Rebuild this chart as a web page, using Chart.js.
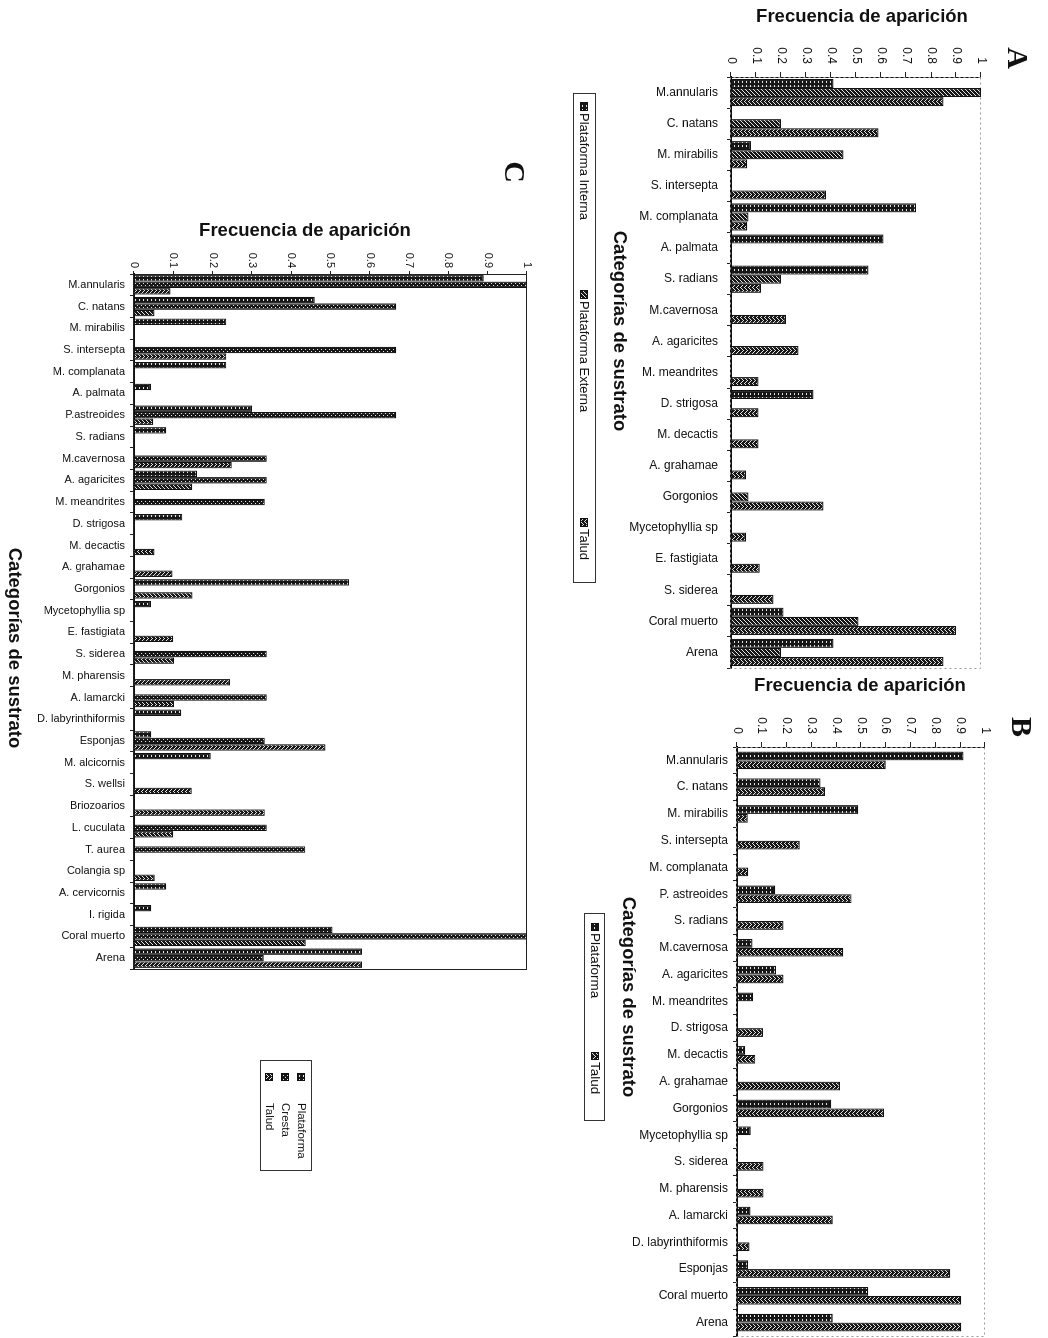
<!DOCTYPE html>
<html lang="es">
<head>
<meta charset="utf-8">
<title>Frecuencia de aparición por categorías de sustrato</title>
<script src="https://cdn.jsdelivr.net/npm/chart.js@4.4.1/dist/chart.umd.min.js"></script>
<style>
	html, body { margin: 0; padding: 0; background: #fff; }
	body { width: 1048px; height: 1338px; position: relative; overflow: hidden; font-family: 'Liberation Sans', Arial, sans-serif; color: #111; }
	canvas.rot { position: absolute; transform-origin: 0 0; }
	.lbl { position: absolute; transform: translate(-50%, -50%); white-space: nowrap; line-height: 1; }
	.ttl { font-weight: bold; font-size: 18.5px; }
	.vert { writing-mode: vertical-rl; }
	.letra { font-family: 'Liberation Serif', serif; font-weight: bold; font-size: 30px; writing-mode: vertical-rl; }
</style>
</head>
<body>

<canvas id="chart-a" class="rot"></canvas>
<canvas id="chart-b" class="rot"></canvas>
<canvas id="chart-c" class="rot"></canvas>

<!-- titles and panel letters (page is turned a quarter, so some text runs downwards) -->
<div class="lbl ttl" style="left:862px; top:16px;">Frecuencia de aparición</div>
<div class="lbl ttl vert" style="left:620px; top:331px;">Categorías de sustrato</div>
<div class="lbl letra" style="left:1018px; top:58px;">A</div>

<div class="lbl ttl" style="left:860px; top:685px;">Frecuencia de aparición</div>
<div class="lbl ttl vert" style="left:629px; top:997px;">Categorías de sustrato</div>
<div class="lbl letra" style="left:1022px; top:727px;">B</div>

<div class="lbl ttl" style="left:305px; top:230px;">Frecuencia de aparición</div>
<div class="lbl ttl vert" style="left:15px; top:648px;">Categorías de sustrato</div>
<div class="lbl letra" style="left:515px; top:172px;">C</div>

<script>
/*  data  */

const valueTicks = ['0', '0.1', '0.2', '0.3', '0.4', '0.5', '0.6', '0.7', '0.8', '0.9', '1'];

// A
const catsA = ['M.annularis', 'C. natans', 'M. mirabilis', 'S. intersepta', 'M. complanata', 'A. palmata',
	'S. radians', 'M.cavernosa', 'A. agaricites', 'M. meandrites', 'D. strigosa', 'M. decactis',
	'A. grahamae', 'Gorgonios', 'Mycetophyllia sp', 'E. fastigiata', 'S. siderea', 'Coral muerto', 'Arena'];
const internaA = [0.41, 0, 0.08, 0, 0.74, 0.61, 0.55, 0, 0, 0, 0.33, 0, 0, 0, 0, 0, 0, 0.21, 0.41];
const externaA = [1.0, 0.2, 0.45, 0, 0.07, 0, 0.2, 0, 0, 0, 0, 0, 0, 0.07, 0, 0, 0, 0.51, 0.2];
const taludA = [0.85, 0.59, 0.065, 0.38, 0.065, 0, 0.12, 0.22, 0.27, 0.11, 0.11, 0.11, 0.06, 0.37, 0.06, 0.115, 0.17, 0.9, 0.85];

// B
const catsB = ['M.annularis', 'C. natans', 'M. mirabilis', 'S. intersepta', 'M. complanata', 'P. astreoides',
	'S. radians', 'M.cavernosa', 'A. agaricites', 'M. meandrites', 'D. strigosa', 'M. decactis',
	'A. grahamae', 'Gorgonios', 'Mycetophyllia sp', 'S. siderea', 'M. pharensis', 'A. lamarcki',
	'D. labyrinthiformis', 'Esponjas', 'Coral muerto', 'Arena'];
const plataformaB = [0.913, 0.337, 0.489, 0, 0, 0.154, 0, 0.063, 0.157, 0.065, 0, 0.033, 0, 0.38, 0.055, 0, 0, 0.054, 0, 0.044, 0.529, 0.386];
const taludB = [0.6, 0.355, 0.043, 0.253, 0.045, 0.462, 0.187, 0.428, 0.187, 0, 0.105, 0.074, 0.415, 0.593, 0, 0.107, 0.107, 0.386, 0.05, 0.86, 0.904, 0.904];

// C
const catsC = ['M.annularis', 'C. natans', 'M. mirabilis', 'S. intersepta', 'M. complanata', 'A. palmata',
	'P.astreoides', 'S. radians', 'M.cavernosa', 'A. agaricites', 'M. meandrites', 'D. strigosa',
	'M. decactis', 'A. grahamae', 'Gorgonios', 'Mycetophyllia sp', 'E. fastigiata', 'S. siderea',
	'M. pharensis', 'A. lamarcki', 'D. labyrinthiformis', 'Esponjas', 'M. alcicornis', 'S. wellsi',
	'Briozoarios', 'L. cuculata', 'T. aurea', 'Colangia sp', 'A. cervicornis', 'I. rigida',
	'Coral muerto', 'Arena'];
const plataformaC = [0.89, 0.46, 0.235, 0, 0.235, 0.043, 0.3, 0.082, 0, 0.16, 0, 0.123, 0, 0, 0.547, 0.043,
	0, 0, 0, 0, 0.12, 0.044, 0.195, 0, 0, 0, 0, 0, 0.082, 0.044, 0.505, 0.58];
const crestaC = [1.0, 0.667, 0, 0.667, 0, 0, 0.667, 0, 0.338, 0.338, 0.333, 0, 0, 0, 0, 0,
	0, 0.338, 0, 0.338, 0, 0.333, 0, 0, 0, 0.338, 0.436, 0, 0, 0, 1.0, 0.33];
const taludC = [0.093, 0.052, 0, 0.235, 0, 0, 0.049, 0, 0.249, 0.148, 0, 0, 0.052, 0.098, 0.149, 0,
	0.1, 0.102, 0.244, 0.102, 0, 0.487, 0, 0.147, 0.333, 0.1, 0, 0.053, 0, 0, 0.437, 0.58];


/*  hatch fills, like the scanned bars  */

function makePattern(kind) {
	let c = document.createElement('canvas');
	let g = c.getContext('2d');
	c.width = 4; c.height = 4;
	if (kind === 'zig') { c.width = 6; }
	g.fillStyle = '#161616';
	g.fillRect(0, 0, c.width, c.height);
	g.fillStyle = '#e6e6e6';
	if (kind === 'grid') {
		g.fillRect(1, 1, 2, 1);
	} else if (kind === 'diag') {
		for (let i = 0; i < 4; i++) g.fillRect(i, 3 - i, 1, 1);
	} else if (kind === 'dots') {
		g.fillRect(1, 1, 1, 1);
		g.fillRect(3, 3, 1, 1);
	} else if (kind === 'zig') {
		[[0, 2], [1, 1], [2, 0], [3, 1], [4, 2], [5, 3]].forEach(p => g.fillRect(p[0], p[1], 1, 1));
	}
	return g.createPattern(c, 'repeat');
}

const fillGrid = makePattern('grid');
const fillDiag = makePattern('diag');
const fillDots = makePattern('dots');
const fillZig = makePattern('zig');


/*  plugins: plot frame and boxed legend  */

const framePlugin = {
	id: 'frame',
	beforeDatasetsDraw(chart, args, opts) {
		let a = chart.chartArea;
		let ctx = chart.ctx;
		ctx.save();
		ctx.strokeStyle = opts.color;
		ctx.lineWidth = 1;
		ctx.setLineDash(opts.dash || []);
		ctx.strokeRect(a.left + 0.5, a.top + 0.5, a.right - a.left, a.bottom - a.top);
		ctx.restore();
	}
};

const boxLegend = {
	id: 'boxLegend',
	afterDraw(chart, args, opts) {
		let ctx = chart.ctx;
		ctx.save();
		ctx.strokeStyle = '#333';
		ctx.lineWidth = 1;
		ctx.strokeRect(opts.box[0] + 0.5, opts.box[1] + 0.5, opts.box[2], opts.box[3]);
		ctx.font = opts.font;
		ctx.textBaseline = 'middle';
		chart.data.datasets.forEach(function (ds, i) {
			let p = opts.items[i];
			ctx.fillStyle = ds.backgroundColor;
			ctx.fillRect(p[0], p[1], opts.sw, opts.sh);
			ctx.strokeStyle = '#111';
			ctx.strokeRect(p[0] + 0.5, p[1] + 0.5, opts.sw, opts.sh);
			ctx.fillStyle = '#111';
			ctx.fillText(ds.label, p[0] + opts.gap, p[1] + opts.sh / 2 + 0.5);
		});
		ctx.restore();
	}
};


/*  each panel is a column chart, turned 90deg clockwise onto the page  */

function drawPanel(id, frame, area, labels, datasets, look) {
	let cv = document.getElementById(id);
	cv.width = frame.w;
	cv.height = frame.h;
	cv.style.left = frame.left + 'px';
	cv.style.top = frame.top + 'px';
	cv.style.transform = 'translateX(' + frame.h + 'px) rotate(90deg)';

	datasets.forEach(function (ds) {
		ds.borderColor = '#111';
		ds.borderWidth = 1.2;
	});

	return new Chart(cv, {
		type: 'bar',
		data: { labels: labels, datasets: datasets },
		options: {
			responsive: false,
			animation: false,
			layout: { padding: { left: 0, top: area.top, right: frame.w - area.right, bottom: 0 } },
			datasets: { bar: { categoryPercentage: look.catPct, barPercentage: 1 } },
			plugins: {
				legend: { display: false },
				tooltip: { enabled: false },
				frame: look.frame,
				boxLegend: look.legend
			},
			scales: {
				x: {
					grid: { offset: true, drawOnChartArea: false, tickLength: 4, color: '#222' },
					border: { color: '#111', width: 2 },
					ticks: {
						autoSkip: false, minRotation: 90, maxRotation: 90,
						padding: look.catPad, color: '#111',
						font: { size: look.catFont }
					},
					afterFit: function (s) { s.height = frame.h - area.bottom; }
				},
				y: {
					min: 0, max: 1,
					grid: { drawOnChartArea: false, tickLength: look.tickLen, color: '#222' },
					border: { color: '#111', width: 1 },
					ticks: {
						stepSize: 0.1, padding: look.valPad, color: '#111',
						font: { size: look.valFont },
						callback: function (v, i) { return valueTicks[i]; }
					},
					afterFit: function (s) { s.width = area.left; }
				}
			}
		},
		plugins: [framePlugin, boxLegend]
	});
}

drawPanel('chart-a',
	{ left: 560, top: 0, w: 690, h: 488 },
	{ left: 77, right: 668, top: 67, bottom: 317 },
	catsA,
	[
		{ label: 'Plataforma Interna', data: internaA, backgroundColor: fillGrid },
		{ label: 'Plataforma Externa', data: externaA, backgroundColor: fillDiag },
		{ label: 'Talud', data: taludA, backgroundColor: fillZig }
	],
	{
		catPct: 0.88, catPad: 9, catFont: 12, valPad: 8, valFont: 12, tickLen: 5,
		frame: { color: '#9a9a9a', dash: [2, 3] },
		legend: { box: [93, 452, 489, 22], items: [[102, 460], [290, 460], [518, 460]], sw: 8, sh: 7, gap: 11, font: '13px "Liberation Sans", Arial, sans-serif' }
	});

drawPanel('chart-b',
	{ left: 560, top: 670, w: 690, h: 488 },
	{ left: 77, right: 666, top: 63, bottom: 311 },
	catsB,
	[
		{ label: 'Plataforma', data: plataformaB, backgroundColor: fillGrid },
		{ label: 'Talud', data: taludB, backgroundColor: fillZig }
	],
	{
		catPct: 0.66, catPad: 5, catFont: 12, valPad: 8, valFont: 12, tickLen: 5,
		frame: { color: '#9a9a9a', dash: [2, 3] },
		legend: { box: [243, 443, 207, 20], items: [[253, 449], [382, 449]], sw: 7, sh: 7, gap: 10, font: '13.5px "Liberation Sans", Arial, sans-serif' }
	});

drawPanel('chart-c',
	{ left: 0, top: 150, w: 1040, h: 545 },
	{ left: 124, right: 819, top: 18, bottom: 411 },
	catsC,
	[
		{ label: 'Plataforma', data: plataformaC, backgroundColor: fillGrid },
		{ label: 'Cresta', data: crestaC, backgroundColor: fillDots },
		{ label: 'Talud', data: taludC, backgroundColor: fillZig }
	],
	{
		catPct: 0.9, catPad: 5, catFont: 11, valPad: 3, valFont: 11, tickLen: 3,
		frame: { color: '#222', dash: [] },
		legend: { box: [910, 233, 110, 51], items: [[923, 240], [923, 256], [923, 272]], sw: 7, sh: 7, gap: 30, font: '11.5px "Liberation Sans", Arial, sans-serif' }
	});
</script>
</body>
</html>
